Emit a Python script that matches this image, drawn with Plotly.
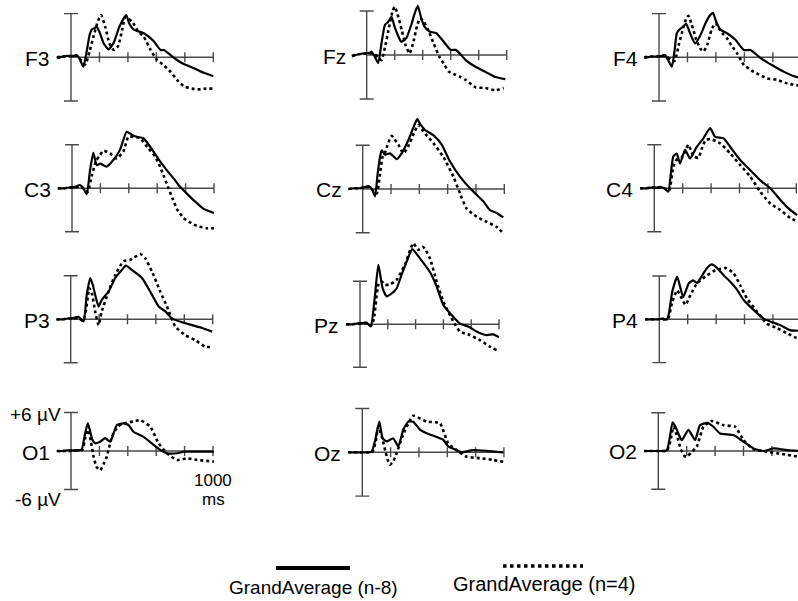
import plotly.graph_objects as go

# ---------------- data (time in ms, amplitude in µV) ----------------
channels = ["F3", "Fz", "F4", "C3", "Cz", "C4", "P3", "Pz", "P4", "O1", "Oz", "O2"]
series_names = ["GrandAverage (n-8)", "GrandAverage (n=4)"]
tick_ms = [200, 400, 600, 800, 1000]

F3_n8_t = [-100, -60, -20, 20, 40, 60, 87, 110, 130, 146, 165, 181, 200, 230, 264, 300, 340, 388, 410, 441, 512, 582, 630, 653, 700, 747, 800, 865, 930, 1000]
F3_n8_v = [-0.1, 0.1, 0.2, 0.2, 0.3, -0.2, -1.3, 0.8, 3.0, 3.8, 4.0, 4.2, 3.5, 1.9, 1.1, 2.0, 4.2, 5.8, 4.6, 3.8, 3.3, 2.2, 1.0, 1.0, 0.3, -0.4, -1.0, -1.5, -2.1, -2.6]
F3_n4_t = [-100, -60, -20, 20, 40, 70, 100, 130, 160, 190, 212, 240, 270, 300, 330, 360, 380, 400, 430, 470, 512, 560, 605, 653, 700, 750, 795, 850, 900, 950, 1000]
F3_n4_v = [0.0, 0.1, 0.1, 0.2, 0.2, -0.4, -1.0, 0.8, 3.0, 5.0, 5.8, 4.2, 1.9, 1.0, 1.5, 3.8, 5.5, 5.3, 4.9, 3.6, 2.8, 1.0, -0.4, -1.1, -2.0, -3.2, -4.0, -4.3, -4.4, -4.3, -4.3]

Fz_n8_t = [-106, -60, -20, 20, 35, 60, 82, 105, 130, 153, 177, 200, 225, 247, 283, 320, 345, 365, 390, 412, 448, 495, 542, 600, 636, 670, 707, 777, 848, 919, 990]
Fz_n8_v = [-0.2, 0.1, 0.2, 0.3, 0.45, -0.3, -1.1, 1.5, 4.1, 4.5, 5.2, 3.8, 2.6, 1.8, 2.3, 4.2, 5.8, 6.7, 5.0, 3.9, 3.2, 3.0, 2.0, 0.7, 0.7, 0.1, -0.7, -1.6, -2.3, -3.0, -3.3]
Fz_n4_t = [-106, -60, -20, 20, 50, 80, 105, 130, 160, 185, 200, 220, 250, 280, 306, 330, 360, 382, 410, 448, 480, 518, 550, 589, 636, 670, 707, 777, 848, 919, 978]
Fz_n4_v = [-0.1, 0.1, 0.2, 0.2, 0.2, -0.3, -0.7, 1.0, 3.8, 6.0, 6.6, 5.6, 3.4, 1.2, 0.2, 1.5, 4.0, 5.0, 4.5, 3.0, 1.5, -0.2, -1.2, -2.3, -2.7, -3.0, -3.4, -4.4, -4.5, -4.8, -4.5]

F4_n8_t = [-104, -60, -20, 20, 42, 65, 90, 110, 125, 148, 170, 191, 220, 254, 290, 330, 360, 379, 400, 431, 478, 537, 596, 643, 714, 796, 879, 949, 990]
F4_n8_v = [-0.1, 0.1, 0.1, 0.2, 0.3, -0.4, -1.3, 1.0, 3.3, 3.9, 4.2, 4.6, 3.2, 1.9, 3.0, 4.8, 5.8, 6.1, 5.0, 3.8, 3.3, 2.4, 1.0, 1.0, -0.1, -1.1, -2.0, -2.6, -2.8]
F4_n4_t = [-104, -60, -20, 20, 50, 80, 110, 140, 170, 190, 207, 230, 260, 290, 313, 340, 370, 396, 420, 450, 478, 510, 549, 596, 667, 761, 832, 902, 990]
F4_n4_v = [0.0, 0.1, 0.1, 0.2, 0.2, -0.3, -0.5, 1.8, 4.0, 5.2, 5.7, 4.5, 2.5, 1.2, 0.8, 1.8, 3.8, 4.7, 4.0, 3.2, 2.6, 1.6, 0.55, -1.05, -2.0, -2.9, -3.1, -3.6, -3.9]

C3_n8_t = [-100, -60, -20, 20, 56, 80, 104, 127, 150, 174, 198, 244, 291, 338, 385, 420, 456, 503, 573, 620, 667, 714, 761, 807, 854, 925, 1000]
C3_n8_v = [0.0, 0.0, 0.1, 0.2, 0.45, 0.0, -0.8, 2.5, 4.9, 3.2, 3.4, 3.0, 3.9, 5.3, 7.8, 7.4, 7.1, 6.9, 5.1, 3.7, 2.5, 1.4, 0.2, -0.7, -1.6, -2.8, -3.4]
C3_n4_t = [-100, -60, -20, 20, 56, 80, 110, 140, 170, 198, 221, 268, 315, 362, 397, 432, 480, 538, 585, 620, 650, 680, 710, 740, 785, 830, 880, 950, 1000]
C3_n4_v = [0.0, 0.0, 0.1, 0.1, 0.3, 0.0, -0.5, 1.8, 3.8, 4.6, 5.2, 4.8, 4.1, 5.1, 7.1, 7.1, 6.9, 5.5, 4.4, 3.0, 1.5, 0.0, -1.5, -2.9, -4.1, -4.7, -5.2, -5.5, -5.5]

Cz_n8_t = [-100, -60, -20, 20, 40, 65, 87, 105, 122, 134, 158, 193, 240, 275, 322, 355, 385, 410, 440, 499, 558, 616, 687, 758, 805, 852, 899, 946, 993]
Cz_n8_v = [0.0, 0.1, 0.1, 0.3, 0.4, 0.0, -1.0, 2.0, 4.4, 5.3, 4.7, 4.9, 4.1, 4.9, 6.7, 8.3, 9.6, 8.8, 8.1, 7.4, 6.1, 3.8, 1.7, 0.1, -0.8, -1.7, -2.9, -3.3, -3.9]
Cz_n4_t = [-100, -60, -20, 20, 50, 80, 100, 122, 140, 158, 180, 205, 225, 252, 287, 320, 360, 393, 428, 499, 570, 640, 687, 734, 805, 875, 946, 993]
Cz_n4_v = [0.0, 0.1, 0.1, 0.2, 0.3, -0.3, -0.6, 2.0, 4.4, 5.0, 6.3, 7.3, 6.8, 6.1, 4.9, 5.8, 7.6, 8.8, 7.9, 6.3, 4.4, 1.7, -0.6, -2.7, -3.8, -4.5, -5.2, -6.1]

C4_n8_t = [-100, -60, -20, 20, 40, 70, 99, 115, 134, 158, 181, 217, 252, 299, 346, 393, 429, 488, 535, 605, 676, 747, 817, 888, 947, 1006]
C4_n8_v = [0.0, 0.0, 0.1, 0.1, 0.2, 0.0, -0.45, 1.8, 4.4, 4.8, 3.4, 5.3, 4.1, 5.7, 6.9, 8.3, 7.1, 6.9, 5.7, 3.9, 2.5, 1.1, 0.0, -1.6, -2.8, -3.7]
C4_n4_t = [-100, -60, -20, 20, 50, 80, 105, 134, 160, 190, 215, 240, 276, 310, 335, 360, 393, 464, 535, 605, 676, 747, 817, 888, 959, 1006]
C4_n4_v = [0.0, 0.0, 0.1, 0.1, 0.1, -0.1, -0.3, 3.0, 4.0, 4.2, 5.0, 6.0, 4.4, 4.2, 5.5, 6.6, 6.8, 6.2, 4.8, 3.2, 1.6, -0.5, -2.1, -3.0, -4.1, -4.6]

P3_n8_t = [-100, -60, -20, 20, 54, 90, 113, 137, 155, 172, 196, 219, 266, 313, 360, 389, 431, 502, 572, 620, 667, 714, 784, 855, 926, 996]
P3_n8_v = [0.0, 0.0, 0.1, 0.2, 0.35, -0.3, 3.4, 5.7, 4.8, 3.4, 1.75, 2.7, 3.8, 5.7, 6.8, 7.4, 6.8, 5.7, 3.4, 1.75, 1.1, 0.1, -0.4, -0.8, -1.2, -1.7]
P3_n4_t = [-100, -60, -20, 20, 54, 85, 101, 120, 130, 150, 172, 196, 219, 266, 313, 372, 419, 490, 525, 572, 631, 678, 737, 808, 879, 949, 996]
P3_n4_v = [0.0, 0.0, 0.1, 0.1, 0.2, -0.2, 0.5, 3.0, 4.3, 3.5, 1.1, -0.8, 1.1, 3.8, 6.1, 8.0, 8.2, 9.0, 8.4, 6.6, 3.8, 1.75, -1.0, -2.2, -2.9, -3.8, -3.8]

Pz_n8_t = [-100, -60, -20, 20, 48, 77, 108, 132, 163, 192, 228, 263, 299, 335, 376, 431, 503, 551, 599, 659, 719, 778, 838, 910, 958, 999]
Pz_n8_v = [0.0, 0.0, 0.1, 0.2, 0.2, -0.3, 4.1, 8.3, 5.0, 3.9, 4.3, 5.0, 6.9, 8.7, 10.5, 9.2, 7.3, 5.3, 2.7, 1.3, 0.1, -0.3, -1.0, -1.5, -1.4, -1.8]
Pz_n4_t = [-100, -60, -20, 20, 48, 80, 100, 132, 156, 180, 220, 263, 323, 383, 419, 455, 503, 551, 599, 671, 719, 790, 862, 934, 982]
Pz_n4_v = [0.0, 0.0, 0.1, 0.1, 0.2, -0.2, 0.8, 5.5, 6.0, 5.5, 5.6, 6.2, 8.3, 11.3, 10.4, 10.8, 9.2, 6.0, 3.2, 0.4, -1.0, -1.5, -2.2, -3.1, -3.6]

P4_n8_t = [-100, -60, -20, 20, 56, 91, 126, 168, 208, 240, 266, 290, 336, 371, 407, 453, 500, 547, 593, 664, 734, 780, 850, 921, 990]
P4_n8_v = [0.0, 0.0, 0.0, 0.1, 0.0, 3.8, 5.9, 3.1, 5.0, 5.4, 5.0, 5.7, 7.1, 7.6, 7.1, 6.1, 5.2, 4.1, 2.7, 1.3, 0.1, -0.3, -0.8, -1.5, -1.6]
P4_n4_t = [-100, -60, -20, 20, 60, 91, 126, 155, 185, 220, 266, 336, 395, 465, 523, 570, 617, 687, 757, 827, 897, 967, 990]
P4_n4_v = [0.0, 0.0, 0.0, 0.0, 0.0, 2.4, 4.0, 3.0, 2.0, 3.4, 5.0, 6.1, 6.8, 7.1, 6.4, 4.7, 2.9, 1.1, -0.6, -1.2, -1.9, -2.6, -2.7]

O1_n8_t = [-100, -60, -20, 20, 60, 75, 100, 118, 130, 150, 170, 205, 240, 276, 323, 370, 405, 440, 511, 582, 629, 676, 747, 794, 865, 1006]
O1_n8_v = [0.0, 0.0, 0.1, 0.1, 0.15, 0.2, 2.8, 4.3, 3.5, 1.8, 1.2, 1.45, 2.0, 1.45, 4.05, 4.3, 4.05, 3.0, 2.2, 0.95, 0.15, -0.35, -0.35, -0.1, -0.1, -0.1]
O1_n4_t = [-100, -60, -20, 20, 60, 80, 100, 120, 140, 160, 180, 205, 230, 252, 280, 299, 330, 370, 440, 488, 558, 617, 676, 747, 818, 888, 1006]
O1_n4_v = [0.0, 0.0, 0.0, 0.1, 0.1, 0.2, 2.0, 3.3, 1.5, -1.0, -2.5, -3.0, -2.0, -0.9, 1.6, 2.75, 3.8, 4.3, 4.6, 4.8, 3.8, 1.2, -0.35, -1.4, -1.15, -1.4, -1.65]

Oz_n8_t = [-100, -60, -20, 20, 66, 95, 120, 144, 172, 219, 254, 289, 325, 360, 407, 454, 525, 572, 607, 666, 701, 784, 878, 995]
Oz_n8_v = [0.0, 0.0, 0.0, 0.0, 0.1, 2.0, 4.2, 1.9, 1.5, 1.9, 0.8, 3.1, 4.2, 4.2, 3.1, 2.6, 2.1, 1.7, 0.8, 0.3, 0.0, 0.3, 0.2, 0.0]
Oz_n4_t = [-100, -60, -20, 20, 70, 95, 113, 140, 165, 184, 195, 220, 242, 280, 313, 360, 454, 548, 607, 666, 737, 831, 925, 995]
Oz_n4_v = [0.0, 0.0, 0.0, 0.0, 0.0, 1.5, 3.5, 2.0, 0.0, -1.3, -1.7, -1.2, -0.15, 2.0, 3.5, 5.0, 4.2, 4.0, 1.2, 0.3, -0.6, -0.8, -1.05, -1.3]

O2_n8_t = [-100, -60, -20, 20, 60, 80, 101, 121, 141, 165, 212, 259, 294, 346, 388, 435, 529, 600, 671, 741, 812, 906, 990]
O2_n8_v = [0.0, 0.0, 0.0, 0.0, 0.1, 2.0, 4.5, 3.8, 2.75, 1.7, 3.3, 1.7, 4.05, 4.4, 3.8, 2.75, 2.5, 1.45, 0.4, 0.0, 0.4, 0.15, 0.0]
O2_n4_t = [-100, -60, -20, 20, 60, 85, 106, 130, 160, 185, 200, 230, 271, 318, 376, 459, 541, 600, 671, 765, 835, 906, 990]
O2_n4_v = [0.0, 0.0, 0.0, 0.0, 0.0, 1.5, 3.8, 2.5, 0.2, -0.8, -0.9, -0.3, 0.7, 3.8, 4.7, 4.05, 3.8, 1.7, 0.25, -0.1, -0.35, -0.6, -0.9]

n8_t = [F3_n8_t, Fz_n8_t, F4_n8_t, C3_n8_t, Cz_n8_t, C4_n8_t, P3_n8_t, Pz_n8_t, P4_n8_t, O1_n8_t, Oz_n8_t, O2_n8_t]
n8_v = [F3_n8_v, Fz_n8_v, F4_n8_v, C3_n8_v, Cz_n8_v, C4_n8_v, P3_n8_v, Pz_n8_v, P4_n8_v, O1_n8_v, Oz_n8_v, O2_n8_v]
n4_t = [F3_n4_t, Fz_n4_t, F4_n4_t, C3_n4_t, Cz_n4_t, C4_n4_t, P3_n4_t, Pz_n4_t, P4_n4_t, O1_n4_t, Oz_n4_t, O2_n4_t]
n4_v = [F3_n4_v, Fz_n4_v, F4_n4_v, C3_n4_v, Cz_n4_v, C4_n4_v, P3_n4_v, Pz_n4_v, P4_n4_v, O1_n4_v, Oz_n4_v, O2_n4_v]

# ---------------- layout geometry (pixels) ----------------
W, H = 798, 601
panel_x0 = [71, 366.7, 659, 72, 362.7, 654.3, 70.7, 360, 659.3, 71, 362.3, 658.3]
panel_base = [57.3, 55, 57.3, 188.3, 189, 188.3, 319.3, 324.3, 319.3, 451, 452.3, 451]
panel_half = [43.7, 44, 43.7, 43.5, 43.7, 43.5, 43.5, 43, 43.3, 38.5, 43.8, 38.3]
panel_k = [0.1423, 0.140, 0.1423, 0.1420, 0.1416, 0.1420, 0.1420, 0.139, 0.1420, 0.1420, 0.1416, 0.1420]

FONT = "Liberation Sans, Arial, Helvetica, sans-serif"
AX_COLOR = "#4a4a4a"
AX_W = 1.4

fig = go.Figure()
layout_axes = {}
shapes = []
annotations = []

for i, ch in enumerate(channels):
    n = i + 1
    sfx = "" if n == 1 else str(n)
    xa, ya = "x" + sfx, "y" + sfx
    x0, base, half, k = panel_x0[i], panel_base[i], panel_half[i], panel_k[i]
    s = half / 6.0
    xlo, xhi = -160.0, 1080.0
    left = x0 + xlo * k
    right = x0 + xhi * k
    if right > W:
        xhi = (W - x0) / k
        right = W
    ylo, yhi = -8.0, 12.5
    top = base - yhi * s
    if top < 0:
        yhi = base / s
        top = 0
    bottom = base - ylo * s
    layout_axes["xaxis" + sfx] = dict(domain=[max(0, left / W), min(1, right / W)], range=[xlo, xhi],
                                      visible=False, fixedrange=True, anchor=ya)
    layout_axes["yaxis" + sfx] = dict(domain=[max(0, 1 - bottom / H), min(1, 1 - top / H)], range=[ylo, yhi],
                                      visible=False, fixedrange=True, anchor=xa)

    # axes drawn in data units
    cap = 7.0 / k
    tk = 5.0 / s
    ln = dict(color=AX_COLOR, width=AX_W)
    shapes.append(dict(type="line", xref=xa, yref=ya, x0=0, x1=0, y0=-6, y1=6, line=ln, layer="below"))
    shapes.append(dict(type="line", xref=xa, yref=ya, x0=-cap, x1=cap, y0=6, y1=6, line=ln, layer="below"))
    shapes.append(dict(type="line", xref=xa, yref=ya, x0=-cap, x1=cap, y0=-6, y1=-6, line=ln, layer="below"))
    shapes.append(dict(type="line", xref=xa, yref=ya, x0=0, x1=1000, y0=0, y1=0, line=ln, layer="below"))
    for tt in tick_ms:
        shapes.append(dict(type="line", xref=xa, yref=ya, x0=tt, x1=tt, y0=-tk, y1=tk, line=ln, layer="below"))

    fig.add_trace(go.Scatter(x=n8_t[i], y=n8_v[i], mode="lines", xaxis=xa, yaxis=ya,
                             name=series_names[0], showlegend=False, hoverinfo="skip",
                             line=dict(color="black", width=2.2, shape="spline", smoothing=0.5)))
    fig.add_trace(go.Scatter(x=n4_t[i], y=n4_v[i], mode="lines", xaxis=xa, yaxis=ya,
                             name=series_names[1], showlegend=False, hoverinfo="skip",
                             line=dict(color="black", width=2.6, dash="dot", shape="spline", smoothing=0.5)))

    annotations.append(dict(x=-105, y=0, xref=xa, yref=ya, text=ch, showarrow=False,
                            xanchor="right", yanchor="middle", xshift=-4, yshift=-1,
                            font=dict(family=FONT, size=21, color="black")))

    if ch == "O1":
        for txt, yy, ysh in [("+6 µV", 6, -2), ("-6 µV", -6, -10)]:
            annotations.append(dict(x=-55, y=yy, xref=xa, yref=ya, text=txt, showarrow=False,
                                    xanchor="right", yanchor="middle", yshift=ysh,
                                    font=dict(family=FONT, size=19, color="black")))
        annotations.append(dict(x=1000, y=0, xref=xa, yref=ya, text="1000", showarrow=False,
                                xanchor="center", yanchor="middle", yshift=-29,
                                font=dict(family=FONT, size=17, color="black")))
        annotations.append(dict(x=1000, y=0, xref=xa, yref=ya, text="ms", showarrow=False,
                                xanchor="center", yanchor="middle", yshift=-48,
                                font=dict(family=FONT, size=17, color="black")))

# legend (custom, below panels)
leg_y = [568, 566]
leg_x = [(276, 350), (503, 583)]
leg_text_x = [313, 544]
leg_text_y = [587, 584]
leg_text_size = [19, 20]
for j in range(2):
    shapes.append(dict(type="line", xref="paper", yref="paper",
                       x0=leg_x[j][0] / W, x1=leg_x[j][1] / W,
                       y0=1 - leg_y[j] / H, y1=1 - leg_y[j] / H,
                       line=dict(color="black", width=4 if j == 0 else 3.5,
                                 dash="solid" if j == 0 else "dot")))
    annotations.append(dict(x=leg_text_x[j] / W, y=1 - leg_text_y[j] / H, xref="paper", yref="paper",
                            text=series_names[j], showarrow=False, xanchor="center", yanchor="middle",
                            font=dict(family=FONT, size=leg_text_size[j], color="black")))

fig.update_layout(width=W, height=H, margin=dict(l=0, r=0, t=0, b=0),
                  paper_bgcolor="white", plot_bgcolor="rgba(0,0,0,0)",
                  showlegend=False, shapes=shapes, annotations=annotations, **layout_axes)

fig.write_html("out.html", config={"displayModeBar": False},
               post_script="document.body.style.margin='0';document.body.style.overflow='hidden';")
